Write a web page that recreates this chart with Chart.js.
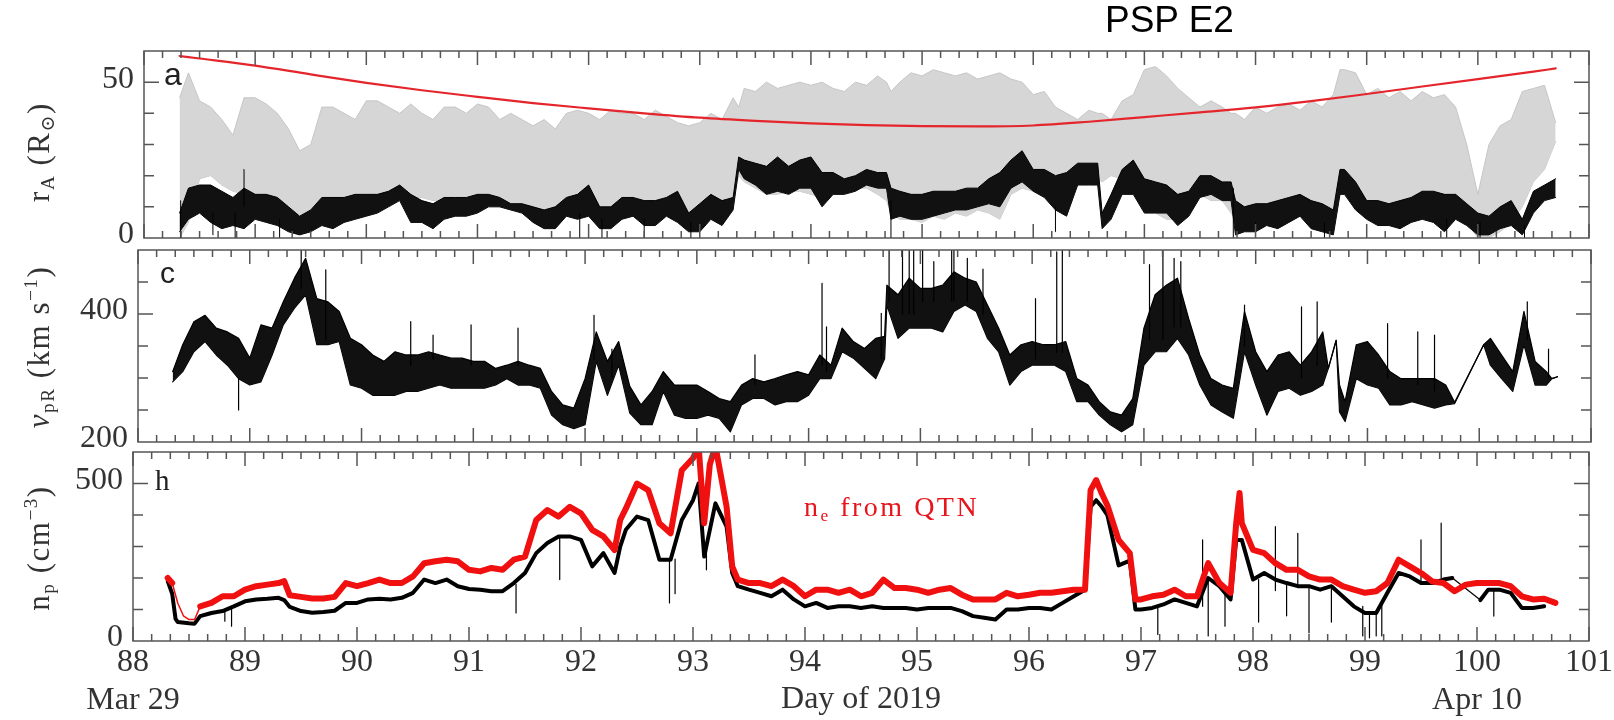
<!DOCTYPE html>
<html>
<head>
<meta charset="utf-8">
<title>PSP E2</title>
<script src="https://cdn.jsdelivr.net/npm/chart.js@4.4.1/dist/chart.umd.min.js"></script>
<style>
  html, body { margin: 0; background: #fff; }
  #fig { position: relative; width: 1614px; height: 720px; overflow: hidden; }
  #fig canvas { position: absolute; left: 0; top: 0; }
  .txt { position: absolute; white-space: nowrap; line-height: 1; }
  .serif { font-family: 'Liberation Serif', 'DejaVu Serif', serif; color: #333; }
  .ytitle { position: absolute; white-space: nowrap; line-height: 1; font-size: 31px; letter-spacing: 1.5px;
            transform: translate(-50%, -50%) rotate(-90deg); }
  .ytitle sub, .ann sub { font-size: 0.62em; vertical-align: -0.28em; line-height: 0; }
  .ytitle sup { font-size: 0.62em; vertical-align: 0.6em; line-height: 0; }
</style>
</head>
<body>
<div id="fig">
  <canvas id="panelA" width="1614" height="720"></canvas>
  <canvas id="panelC" width="1614" height="720"></canvas>
  <canvas id="panelH" width="1614" height="720"></canvas>

  <div class="txt" style="left:1105px; top:1px; font-size:37px; font-family:'Liberation Sans', Arial, sans-serif; color:#000;">PSP E2</div>

  <div class="ytitle serif" style="left:38px; top:152px;">r<sub>A</sub> (R<sub>⊙</sub>)</div>
  <div class="ytitle serif" style="left:38px; top:347px;"><i>v</i><sub>pR</sub> (km s<sup>−1</sup>)</div>
  <div class="ytitle serif" style="left:38px; top:548px;">n<sub>p</sub> (cm<sup>−3</sup>)</div>

  <div class="txt" style="left:164px; top:58px; font-size:32px; font-family:'Liberation Sans', sans-serif; color:#222;">a</div>
  <div class="txt" style="left:160px; top:258px; font-size:30px; font-family:'Liberation Sans', sans-serif; color:#222;">c</div>
  <div class="txt serif" style="left:155px; top:466px; font-size:29px; color:#222;">h</div>
  <div class="txt serif ann" style="left:804px; top:493px; font-size:28px; letter-spacing:2.5px; color:#e8141c;">n<sub>e</sub> from QTN</div>
</div>

<script>
// ---------- panel a : Alfven radius (R_sun) ----------
const aDays = [
  88.32, 88.4, 88.5, 88.6, 88.7, 88.8, 88.9, 89.0, 89.1, 89.2,
  89.3, 89.4, 89.5, 89.6, 89.7, 89.8, 89.9, 90.0, 90.1, 90.2,
  90.3, 90.4, 90.5, 90.6, 90.7, 90.8, 90.9, 91.0, 91.1, 91.2,
  91.3, 91.4, 91.5, 91.6, 91.7, 91.8, 91.9, 92.0, 92.1, 92.2,
  92.3, 92.4, 92.5, 92.6, 92.7, 92.8, 92.9, 93.0, 93.1, 93.2,
  93.3, 93.35, 93.4, 93.5, 93.6, 93.7, 93.8, 93.9, 94.0, 94.1,
  94.2, 94.3, 94.4, 94.5, 94.6, 94.68, 94.72, 94.8, 94.9, 95.0,
  95.1, 95.2, 95.3, 95.4, 95.5, 95.6, 95.7, 95.8, 95.9, 96.0,
  96.1, 96.2, 96.3, 96.4, 96.5, 96.58, 96.62, 96.7, 96.8, 96.9,
  97.0, 97.1, 97.2, 97.3, 97.4, 97.5, 97.6, 97.7, 97.78, 97.82,
  97.9, 98.0, 98.1, 98.2, 98.3, 98.4, 98.5, 98.6, 98.7, 98.76,
  98.8, 98.9, 99.0, 99.1, 99.2, 99.3, 99.4, 99.5, 99.6, 99.7,
  99.8, 99.9, 100.0, 100.1, 100.2, 100.3, 100.4, 100.5, 100.6, 100.7
];
const aBlackLo = [
  2, 6, 8, 5, 3, 4, 3, 6, 5, 4,
  2, 1, 2, 4, 3, 5, 6, 7, 8, 10,
  12, 5, 5, 3, 6, 7, 7, 8, 10, 10,
  9, 8, 5, 3, 3, 7, 6, 7, 3, 3,
  6, 7, 4, 4, 7, 5, 2, 2, 6, 4,
  9, 22, 19, 17, 14, 15, 14, 16, 16, 10,
  14, 14, 15, 17, 16, 16, 6, 7, 6, 6,
  7, 8, 9, 9, 10, 11, 10, 16, 18, 15,
  13, 9, 7, 17, 17, 17, 3, 6, 14, 14,
  8, 8, 8, 4, 7, 13, 14, 12, 12, 1,
  2, 2, 4, 3, 5, 7, 3, 2, 1, 14,
  14, 9, 6, 4, 4, 3, 5, 6, 5, 2,
  6, 4, 1, 1, 3, 4, 1, 8, 12, 13
];
const aBlackHi = [
  8, 16, 17, 17, 15, 13, 16, 14, 14, 13,
  10, 7, 9, 13, 13, 13, 14, 14, 14, 15,
  17, 14, 12, 11, 13, 13, 13, 14, 14, 13,
  11, 11, 10, 9, 10, 13, 14, 17, 10, 10,
  13, 13, 12, 12, 13, 15, 8, 11, 14, 12,
  13, 26, 25, 24, 23, 26, 23, 25, 26, 21,
  21, 19, 20, 22, 21, 21, 16, 15, 14, 14,
  15, 15, 15, 16, 16, 19, 21, 25, 28, 22,
  22, 20, 21, 24, 24, 24, 8, 14, 22, 25,
  19, 18, 17, 14, 15, 20, 20, 18, 18, 12,
  10, 11, 11, 12, 13, 14, 12, 11, 9, 22,
  22, 18, 12, 12, 11, 12, 13, 15, 15, 14,
  14, 11, 8, 7, 10, 12, 6, 15, 17, 19
];
const aGrayLo = [
  0, 5, 19, 20, 17, 15, 14, 12, 12, 8,
  5, 6, 8, 10, 10, 10, 12, 13, 14, 15,
  14, 13, 13, 12, 12, 12, 10, 10, 12, 10,
  9, 9, 8, 8, 8, 10, 12, 12, 10, 9,
  11, 12, 10, 12, 12, 10, 8, 8, 10, 12,
  12, 20, 18, 16, 14, 14, 15, 15, 14, 13,
  14, 15, 16, 16, 14, 12, 8, 6, 6, 5,
  7, 6, 8, 7, 9, 8, 6, 14, 16, 15,
  14, 15, 15, 18, 20, 19, 18, 20, 19, 18,
  10, 8, 6, 6, 12, 14, 12, 12, 8, 6,
  5, 8, 6, 8, 10, 10, 8, 6, 8, 15,
  15, 12, 10, 10, 8, 8, 10, 10, 8, 6,
  8, 5, 0, 0, 2, 5, 10, 18, 22, 31
];
const aGrayHi = [
  45, 53, 44, 42, 38, 33, 45, 45, 43, 40,
  35, 28, 30, 42, 42, 40, 38, 44, 44, 42,
  40, 43, 40, 38, 42, 42, 40, 43, 42, 38,
  40, 38, 36, 38, 35, 40, 41, 40, 38, 41,
  40, 40, 38, 41, 39, 37, 36, 37, 40, 38,
  45, 42, 48, 47, 50, 48, 49, 50, 49, 50,
  48, 47, 50, 49, 52, 50, 47, 50, 53, 52,
  54, 53, 52, 53, 51, 52, 53, 51, 50, 46,
  47, 42, 40, 38, 41, 40, 40, 38, 44, 46,
  54, 55, 52, 48, 45, 42, 44, 42, 40, 40,
  38, 42, 40, 42, 43, 41, 44, 42, 46, 54,
  54, 53, 46, 48, 45, 47, 44, 47, 45, 46,
  42, 30, 14, 30, 36, 38, 47, 48, 49, 37
];
const aRedDays = [88.32, 88.5, 89.0, 89.5, 90.0, 90.5, 91.0, 91.5, 92.0, 92.5, 93.0, 93.5, 94.0, 94.5,
                  95.0, 95.5, 96.0, 96.5, 97.0, 97.5, 98.0, 98.5, 99.0, 99.5, 100.0, 100.5, 100.7];
const aRed = [58.4, 57.6, 55.3, 52.5, 49.8, 47.4, 45.3, 43.3, 41.6, 40.0, 38.6, 37.6, 36.8, 36.2,
              35.9, 35.8, 36.1, 37.3, 38.8, 40.3, 41.9, 43.9, 46.2, 48.6, 51.0, 53.4, 54.4];
const aSpikeDays = [88.33, 88.62, 88.82, 88.9, 89.22, 91.92, 92.12, 92.5, 92.92, 94.72, 96.2, 97.8, 98.0, 98.62, 99.72, 100.02, 100.42];
const aSpikeLo   = [0, 1, 0, 10, 0, 0, 0, 0, 0, 0, 2, 0, 0, 0, 0, 0, 0];
const aSpikeHi   = [12, 8, 8, 22, 6, 8, 6, 6, 5, 12, 10, 16, 5, 5, 6, 5, 4];
const aYTicks = [10, 20, 30, 40, 50];
const aYMajor = [50];
const aYLabels = [0, 50];

// ---------- panel c : radial proton velocity (km/s) ----------
const cDays = [
  88.31, 88.4, 88.5, 88.6, 88.7, 88.8, 88.9, 89.0, 89.1, 89.2,
  89.3, 89.4, 89.5, 89.6, 89.7, 89.8, 89.9, 90.0, 90.1, 90.2,
  90.3, 90.4, 90.5, 90.6, 90.7, 90.8, 90.9, 91.0, 91.1, 91.2,
  91.3, 91.4, 91.5, 91.6, 91.7, 91.8, 91.9, 92.0, 92.1, 92.2,
  92.3, 92.4, 92.5, 92.6, 92.7, 92.8, 92.9, 93.0, 93.1, 93.2,
  93.3, 93.4, 93.5, 93.6, 93.7, 93.8, 93.9, 94.0, 94.1, 94.2,
  94.3, 94.4, 94.5, 94.6, 94.68, 94.7, 94.8, 94.9, 95.0, 95.1,
  95.2, 95.3, 95.4, 95.5, 95.6, 95.7, 95.8, 95.9, 96.0, 96.1,
  96.2, 96.3, 96.4, 96.5, 96.6, 96.7, 96.8, 96.9, 97.0, 97.1,
  97.2, 97.3, 97.4, 97.5, 97.6, 97.7, 97.8, 97.9, 98.0, 98.1,
  98.2, 98.3, 98.4, 98.5, 98.6, 98.65, 98.72, 98.75, 98.8, 98.9,
  99.0, 99.1, 99.2, 99.3, 99.4, 99.5, 99.6, 99.7, 99.78, 100.04,
  100.1, 100.2, 100.3, 100.4, 100.5, 100.6, 100.65, 100.7
];
const cLo = [
  294, 310, 341, 357, 336, 320, 299, 289, 294, 336,
  383, 409, 430, 352, 352, 357, 289, 284, 273, 273,
  273, 279, 279, 284, 289, 284, 284, 284, 284, 289,
  299, 289, 289, 284, 242, 227, 221, 227, 326, 273,
  320, 245, 227, 227, 279, 242, 237, 237, 242, 237,
  216, 258, 268, 268, 258, 263, 263, 273, 299, 299,
  341, 331, 315, 299, 330, 414, 362, 378, 378, 378,
  372, 404, 414, 404, 362, 341, 289, 310, 320, 320,
  320, 310, 263, 263, 242, 227, 216, 227, 320, 341,
  341, 362, 336, 289, 258, 247, 237, 341, 289, 242,
  279, 284, 273, 279, 289, 315, 359, 247, 232, 299,
  289, 284, 258, 258, 263, 258, 253, 258, 260, 352,
  320, 299, 279, 352, 289, 289, 299, 302
];
const cHi = [
  310, 352, 388, 398, 378, 372, 362, 331, 383, 378,
  419, 456, 487, 424, 419, 404, 362, 352, 336, 326,
  341, 336, 336, 341, 336, 331, 331, 326, 326, 315,
  320, 326, 320, 315, 279, 258, 253, 299, 372, 326,
  357, 287, 258, 279, 310, 289, 289, 289, 279, 268,
  263, 289, 299, 294, 299, 305, 310, 305, 336, 320,
  378, 357, 346, 362, 365, 445, 430, 456, 440, 440,
  445, 466, 456, 450, 414, 378, 336, 352, 357, 352,
  352, 357, 299, 289, 263, 247, 242, 268, 378, 430,
  445, 456, 393, 336, 299, 289, 284, 404, 341, 310,
  336, 341, 320, 341, 372, 315, 359, 289, 263, 352,
  357, 336, 310, 299, 299, 299, 299, 289, 262, 352,
  362, 336, 310, 404, 326, 310, 299, 302
];
const cSpikeDays = [88.9, 89.46, 89.68, 90.44, 90.64, 90.98, 91.4, 92.08, 92.24, 93.52,
                    94.12, 94.16, 94.65, 94.72, 94.84, 94.9, 94.94, 95.28, 95.3, 95.42,
                    95.56, 96.03, 96.22, 96.27, 97.05, 97.17, 97.27, 97.33, 97.9, 98.41,
                    98.55, 99.18, 99.45, 99.6, 100.43, 100.62, 95.02, 95.12];
const cSpikeLo = [250, 440, 360, 320, 330, 320, 320, 330, 300, 290,
                  320, 310, 330, 420, 400, 400, 400, 420, 420, 420,
                  400, 330, 340, 340, 360, 360, 380, 380, 350, 300,
                  320, 300, 290, 280, 360, 300, 420, 420];
const cSpikeHi = [300, 500, 469, 388, 367, 383, 378, 398, 345, 336,
                  448, 380, 401, 500, 500, 500, 500, 500, 500, 487,
                  470, 424, 497, 500, 477, 500, 487, 482, 414, 411,
                  419, 385, 372, 367, 419, 345, 500, 482];
const cYTicks = [250, 300, 350, 400, 450];
const cYMajor = [400];
const cYLabels = [200, 400];

// ---------- panel h : proton density and QTN electron density (cm^-3) ----------
const hBlackDays = [
  88.31, 88.35, 88.38, 88.4, 88.5, 88.55, 88.6, 88.7, 88.8, 88.9,
  89.0, 89.1, 89.2, 89.3, 89.35, 89.4, 89.5, 89.6, 89.7, 89.8,
  89.9, 90.0, 90.1, 90.2, 90.3, 90.4, 90.5, 90.6, 90.7, 90.8,
  90.9, 91.0, 91.1, 91.2, 91.3, 91.4, 91.5, 91.6, 91.7, 91.8,
  91.9, 92.0, 92.1, 92.2, 92.3, 92.35, 92.4, 92.5, 92.6, 92.7,
  92.8, 92.9, 93.0, 93.05, 93.1, 93.2, 93.3, 93.35, 93.4, 93.5,
  93.6, 93.7, 93.8, 93.9, 94.0, 94.1, 94.2, 94.3, 94.4, 94.5,
  94.6, 94.7, 94.8, 94.9, 95.0, 95.1, 95.2, 95.3, 95.4, 95.5,
  95.6, 95.7, 95.8, 95.9, 96.0, 96.1, 96.2, 96.3, 96.4, 96.5,
  96.55, 96.6, 96.65, 96.7, 96.8, 96.9, 96.95, 97.0, 97.1, 97.2,
  97.3, 97.4, 97.5, 97.6, 97.7, 97.8, 97.85, 97.9, 98.0, 98.1,
  98.2, 98.3, 98.4, 98.5, 98.6, 98.7, 98.8, 98.9, 99.0, 99.1,
  99.2, 99.3, 99.4, 99.5, 99.6, 99.7, 99.78, 100.03, 100.1, 100.2,
  100.3, 100.4, 100.5, 100.6
];
const hBlack = [
  190, 150, 70, 60, 56, 55, 79, 89, 95, 110,
  126, 132, 134, 137, 130, 108, 95, 90, 92, 96,
  121, 121, 132, 134, 132, 137, 153, 195, 184, 195,
  174, 165, 163, 158, 158, 184, 216, 279, 311, 332,
  332, 321, 237, 279, 216, 300, 353, 395, 384, 258,
  258, 384, 447, 500, 268, 437, 363, 216, 174, 163,
  153, 142, 163, 132, 110, 121, 105, 110, 110, 105,
  110, 105, 105, 105, 100, 105, 105, 105, 95, 79,
  74, 68, 100, 100, 105, 105, 100, 121, 142, 163,
  426, 447, 426, 400, 240, 255, 100, 100, 105, 116,
  132, 121, 110, 200, 174, 132, 321, 321, 195, 216,
  195, 184, 174, 174, 163, 174, 142, 110, 89, 89,
  153, 216, 205, 184, 184, 195, 200, 130, 163, 163,
  153, 105, 105, 110
];
const hBlackGap = [99.78, 100.03];
const hRedDays = [
  88.31, 88.35, 88.4, 88.45, 88.5, 88.55, 88.6, 88.7, 88.8, 88.9,
  89.0, 89.1, 89.2, 89.3, 89.35, 89.4, 89.5, 89.6, 89.7, 89.8,
  89.9, 90.0, 90.1, 90.2, 90.3, 90.4, 90.5, 90.6, 90.7, 90.8,
  90.9, 91.0, 91.1, 91.2, 91.3, 91.4, 91.5, 91.6, 91.7, 91.8,
  91.9, 92.0, 92.1, 92.2, 92.3, 92.35, 92.4, 92.5, 92.6, 92.7,
  92.8, 92.9, 93.0, 93.05, 93.1, 93.15, 93.2, 93.3, 93.35, 93.4,
  93.5, 93.6, 93.7, 93.8, 93.9, 94.0, 94.1, 94.2, 94.3, 94.4,
  94.5, 94.6, 94.7, 94.8, 94.9, 95.0, 95.1, 95.2, 95.3, 95.4,
  95.5, 95.6, 95.7, 95.8, 95.9, 96.0, 96.1, 96.2, 96.3, 96.4,
  96.5, 96.55, 96.6, 96.65, 96.7, 96.8, 96.9, 96.95, 97.0, 97.1,
  97.2, 97.3, 97.4, 97.5, 97.6, 97.7, 97.8, 97.85, 97.88, 97.9,
  98.0, 98.1, 98.2, 98.3, 98.4, 98.5, 98.6, 98.7, 98.8, 98.9,
  99.0, 99.1, 99.2, 99.3, 99.4, 99.5, 99.6, 99.7, 99.8, 99.9,
  100.0, 100.1, 100.2, 100.3, 100.4, 100.5, 100.6, 100.7
];
const hRed = [
  200, 184, 120, 80, 68, 68, 110, 121, 142, 142,
  163, 174, 179, 184, 190, 145, 140, 135, 135, 140,
  184, 174, 184, 195, 184, 184, 205, 247, 253, 258,
  253, 226, 221, 232, 226, 258, 268, 384, 416, 395,
  426, 405, 353, 332, 289, 384, 420, 500, 479, 374,
  342, 542, 580, 620, 374, 560, 620, 426, 237, 195,
  184, 184, 174, 195, 174, 142, 163, 163, 153, 163,
  142, 153, 195, 168, 168, 163, 153, 163, 168, 147,
  132, 132, 132, 153, 142, 147, 153, 153, 158, 163,
  163, 479, 511, 468, 430, 321, 279, 132, 132, 142,
  147, 163, 142, 142, 247, 184, 153, 374, 470, 374,
  289, 279, 247, 226, 226, 205, 195, 195, 174, 163,
  153, 158, 184, 258, 237, 216, 189, 184, 158, 179,
  184, 184, 184, 174, 142, 132, 134, 121
];
const hRedGap = [88.35, 88.6];
const hSpikeDays = [88.82, 88.88, 91.42, 91.81, 92.79, 92.84, 93.12, 97.15, 97.55, 97.6,
                    97.75, 98.05, 98.2, 98.3, 98.4, 98.5, 98.7, 98.98, 99.04, 99.1,
                    99.15, 99.5, 99.68, 100.15];
const hSpikeLo = [63, 47, 89, 195, 121, 150, 226, 21, 110, 16,
                  47, 60, 160, 80, 174, 26, 60, 16, 10, 16,
                  16, 184, 200, 79];
const hSpikeHi = [100, 110, 180, 330, 258, 260, 300, 105, 321, 200,
                  174, 195, 363, 184, 342, 174, 174, 110, 89, 89,
                  120, 321, 374, 163];
const hYTicks = [100, 200, 300, 400, 500];
const hYMajor = [500];
const hYLabels = [0, 500];

// shared time axis
const xTickDays = [88, 89, 90, 91, 92, 93, 94, 95, 96, 97, 98, 99, 100, 101];
const dateTickDays = [88, 100];
const dateTickNames = ['Mar 29', 'Apr 10'];
const minorPerDay = 6;

const INK = '#333';
const tickFont = { family: "'Liberation Serif', 'DejaVu Serif', serif", size: 32 };

const pts = (days, vals) => days.map((d, i) => ({ x: d, y: vals[i] }));
const spikePts = (days, lo, hi) => days.flatMap((d, i) => [{ x: d, y: lo[i] }, { x: d, y: hi[i] }, { x: d, y: null }]);
const inGap = (ctx, gap) => ctx.p0.parsed.x >= gap[0] && ctx.p1.parsed.x <= gap[1];

// box round each panel with inward ticks on all four sides
const frame = {
  id: 'frame',
  afterDatasetsDraw(chart, args, o) {
    const { ctx, chartArea: a, scales: { x, y } } = chart;
    ctx.save();
    ctx.strokeStyle = '#555';
    ctx.lineWidth = 1.5;
    ctx.strokeRect(a.left, a.top, a.right - a.left, a.bottom - a.top);
    ctx.beginPath();
    const nMinor = (x.max - x.min) * minorPerDay;
    for (let i = 0; i <= nMinor; i++) {
      const px = x.getPixelForValue(x.min + i / minorPerDay);
      const len = i % minorPerDay ? 7 : 14;
      ctx.moveTo(px, a.top); ctx.lineTo(px, a.top + len);
      ctx.moveTo(px, a.bottom); ctx.lineTo(px, a.bottom - len);
    }
    o.yTicks.forEach(v => {
      const py = y.getPixelForValue(v);
      const len = o.yMajor.includes(v) ? 15 : 10;
      ctx.moveTo(a.left, py); ctx.lineTo(a.left + len, py);
      ctx.moveTo(a.right, py); ctx.lineTo(a.right - len, py);
    });
    ctx.stroke();
    ctx.restore();
  }
};

function yScale(min, max, labels) {
  return {
    type: 'linear', position: 'left', min, max,
    grid: { display: false, drawTicks: false },
    border: { display: false },
    afterBuildTicks: s => { s.ticks = labels.map(v => ({ value: v })); },
    afterFit: s => { s.width = 100; s.paddingTop = 0; s.paddingBottom = 0; },
    ticks: { padding: 10, labelOffset: -3, color: INK, font: tickFont }
  };
}

const hiddenX = () => ({ type: 'linear', min: 88, max: 101, display: false });

function makeChart(id, datasets, x, y, padding, yTicks, yMajor) {
  return new Chart(document.getElementById(id), {
    type: 'line',
    data: { datasets },
    options: {
      responsive: false,
      animation: false,
      events: [],
      layout: { padding },
      elements: { point: { radius: 0 }, line: { tension: 0, borderJoinStyle: 'round', borderCapStyle: 'round' } },
      plugins: { legend: { display: false }, tooltip: { enabled: false }, frame: { yTicks, yMajor } },
      scales: { x, y }
    },
    plugins: [frame]
  });
}

// panel a (plot box 144..1589 x 51..238)
makeChart('panelA', [
  { data: spikePts(aSpikeDays, aSpikeLo, aSpikeHi), borderColor: '#000', borderWidth: 1, spanGaps: false },
  { data: pts(aDays, aBlackHi), borderColor: '#000', borderWidth: 1, fill: '+1', backgroundColor: '#111' },
  { data: pts(aDays, aBlackLo), borderColor: '#000', borderWidth: 1 },
  { data: pts(aRedDays, aRed), borderColor: '#e4262c', borderWidth: 2.2, cubicInterpolationMode: 'monotone' },
  { data: pts(aDays, aGrayHi), borderColor: '#c6c6c6', borderWidth: 1, fill: '+1', backgroundColor: '#d6d6d6' },
  { data: pts(aDays, aGrayLo), borderColor: '#c6c6c6', borderWidth: 1 }
], hiddenX(), yScale(0, 60, aYLabels), { top: 51, bottom: 482, left: 44, right: 25 }, aYTicks, aYMajor);

// panel c (plot box 138..1591 x 250..442)
makeChart('panelC', [
  { data: spikePts(cSpikeDays, cSpikeLo, cSpikeHi), borderColor: '#000', borderWidth: 1.2, spanGaps: false },
  { data: pts(cDays, cHi), borderColor: '#000', borderWidth: 1.2, fill: '+1', backgroundColor: '#111' },
  { data: pts(cDays, cLo), borderColor: '#000', borderWidth: 1.2 }
], hiddenX(), yScale(200, 500, cYLabels), { top: 250, bottom: 278, left: 38, right: 23 }, cYTicks, cYMajor);

// panel h (plot box 133..1589 x 452..641, time axis below)
makeChart('panelH', [
  { data: pts(hRedDays, hRed), borderColor: '#f01010', borderWidth: 6,
    segment: { borderWidth: ctx => inGap(ctx, hRedGap) ? 1.5 : 6 } },
  { data: spikePts(hSpikeDays, hSpikeLo, hSpikeHi), borderColor: '#000', borderWidth: 1.2, spanGaps: false },
  { data: pts(hBlackDays, hBlack), borderColor: '#000', borderWidth: 4,
    segment: { borderWidth: ctx => inGap(ctx, hBlackGap) ? 1.2 : 4 } }
], {
  type: 'linear', position: 'bottom', min: 88, max: 101,
  grid: { display: false, drawTicks: false },
  border: { display: false },
  afterBuildTicks: s => { s.ticks = xTickDays.map(v => ({ value: v })); },
  afterFit: s => { s.height = 78; s.paddingLeft = 0; s.paddingRight = 0; },
  ticks: {
    padding: 2, autoSkip: false, maxRotation: 0, minRotation: 0, color: INK, font: tickFont,
    callback: v => {
      const k = dateTickDays.indexOf(v);
      return k < 0 ? String(v) : [String(v), dateTickNames[k]];
    }
  },
  title: { display: true, text: 'Day of 2019', color: INK, font: tickFont, padding: 0 }
}, yScale(0, 600, hYLabels), { top: 452, bottom: 1, left: 33, right: 25 }, hYTicks, hYMajor);
</script>
</body>
</html>
